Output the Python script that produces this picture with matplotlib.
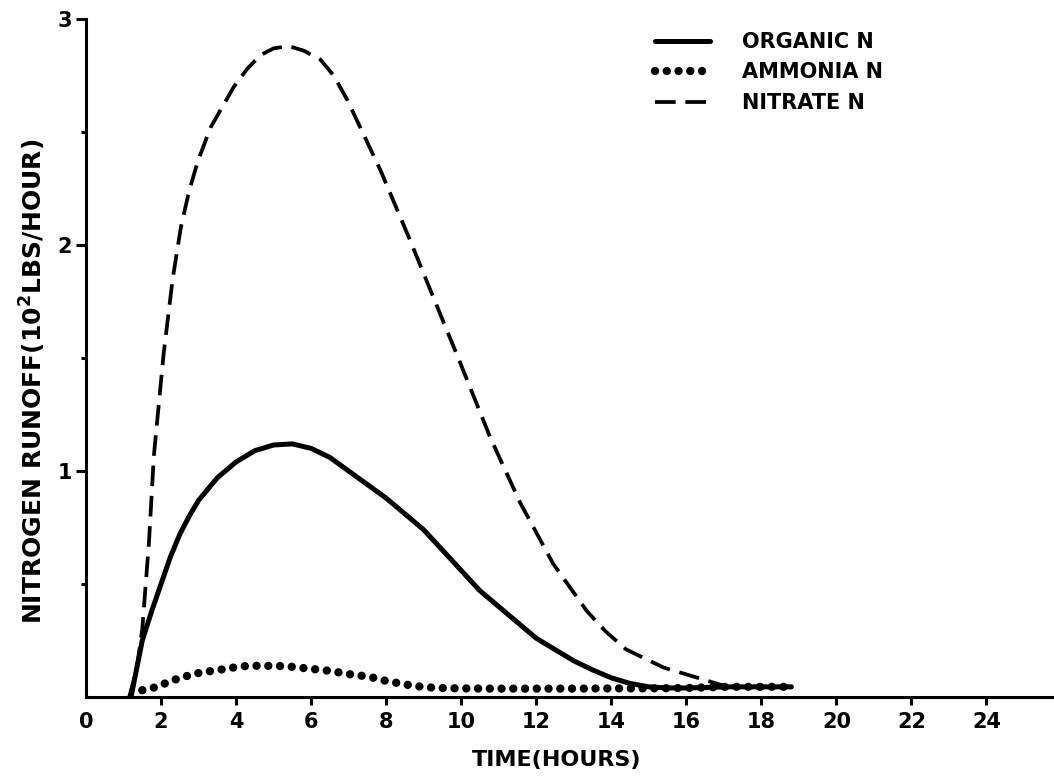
import numpy as np
import matplotlib
matplotlib.use("Agg")
import matplotlib.pyplot as plt
from matplotlib.ticker import FixedLocator

# values (time in hours, runoff in 10^2 lbs/hour)
organic_hours = [1.2, 1.5, 1.75, 2.0, 2.25, 2.5, 2.75, 3.0, 3.5, 4.0, 4.5, 5.0, 5.5, 6.0, 6.5,
                 7.0, 7.5, 8.0, 8.5, 9.0, 9.5, 10.0, 10.5, 11.0, 11.5, 12.0, 12.5, 13.0,
                 13.5, 14.0, 14.5, 15.0, 15.5, 16.0, 16.5, 17.1, 18.8]
organic_n = [0.0, 0.25, 0.38, 0.50, 0.62, 0.72, 0.80, 0.87, 0.97, 1.04, 1.09, 1.115, 1.12, 1.10, 1.06,
             1.00, 0.94, 0.88, 0.81, 0.74, 0.65, 0.56, 0.47, 0.40, 0.33, 0.26, 0.21, 0.16,
             0.12, 0.085, 0.06, 0.045, 0.04, 0.04, 0.042, 0.045, 0.045]

ammonia_hours = [1.5, 1.9, 2.2, 2.5, 2.8, 3.1, 3.4, 3.7, 4.1, 4.4, 4.7, 5.05, 5.4, 5.7,
                 6.0, 6.3, 6.7, 7.05, 7.4, 7.7, 8.0, 8.3, 8.6, 9.0, 9.4, 10.0, 11.0,
                 12.0, 13.0, 14.0, 15.0, 16.0, 17.1, 18.8]
ammonia_n = [0.03, 0.045, 0.067, 0.084, 0.098, 0.11, 0.116, 0.124, 0.135, 0.138, 0.138, 0.138, 0.135, 0.13,
             0.124, 0.12, 0.11, 0.10, 0.093, 0.084, 0.071, 0.062, 0.053, 0.044, 0.04, 0.038, 0.037,
             0.037, 0.037, 0.038, 0.038, 0.04, 0.045, 0.045]

nitrate_hours = [1.15, 1.35, 1.5, 1.68, 1.81, 2.07, 2.31, 2.53, 2.75, 2.98, 3.32, 3.94, 4.3,
                 4.65, 5.0, 5.4, 5.8, 6.25, 6.6, 6.97, 7.85, 8.64, 9.18, 9.97, 10.77,
                 11.57, 12.45, 13.35, 13.85, 14.4, 15.4, 16.3, 17.0]
nitrate_n = [0.0, 0.12, 0.30, 0.69, 1.07, 1.52, 1.85, 2.08, 2.24, 2.37, 2.52, 2.70, 2.78,
             2.84, 2.87, 2.88, 2.86, 2.82, 2.75, 2.64, 2.33, 2.02, 1.80, 1.48, 1.15,
             0.86, 0.59, 0.38, 0.29, 0.21, 0.13, 0.085, 0.05]

x_ticks = [0, 2, 4, 6, 8, 10, 12, 14, 16, 18, 20, 22, 24]
y_major = [1, 2, 3]
y_minor = [0.5, 1.5, 2.5]

plt.rcParams['font.family'] = ['DejaVu Sans']
plt.rcParams['font.weight'] = 'bold'
plt.rcParams['mathtext.fontset'] = 'custom'
plt.rcParams['mathtext.rm'] = 'DejaVu Sans:bold'
plt.rcParams['mathtext.default'] = 'regular'

W, H = 1054, 780
fig = plt.figure(figsize=(W / 100, H / 100), dpi=100)
ax = fig.add_axes([86 / W, 1 - 697 / H, 1 - 86 / W, (697 - 19) / H])

ax.plot(organic_hours, organic_n, color='black', lw=3.6, solid_capstyle='round',
        solid_joinstyle='round', label='ORGANIC N')
ax.plot(ammonia_hours, ammonia_n, color='black', lw=6.0, dash_capstyle='round',
        linestyle=(0, (0.01, 1.4)), label='AMMONIA N')
ax.plot(nitrate_hours, nitrate_n, color='black', lw=2.7, dash_joinstyle='round',
        linestyle=(0, (5.5, 2.6)), label='NITRATE N')

ax.set_xlim(0, 25.8)
ax.set_ylim(0, 3)

for side in ['top', 'right']:
    ax.spines[side].set_visible(False)
for side in ['left', 'bottom']:
    ax.spines[side].set_linewidth(2.2)

ax.xaxis.set_major_locator(FixedLocator(x_ticks))
ax.set_xticklabels([str(t) for t in x_ticks])
ax.xaxis.get_major_ticks()[0].tick1line.set_visible(False)
ax.yaxis.set_major_locator(FixedLocator(y_major))
ax.yaxis.set_minor_locator(FixedLocator(y_minor))
ax.set_yticklabels([str(t) for t in y_major])

ax.tick_params(axis='x', which='major', direction='out', length=6, width=2.2,
               labelsize=15, pad=5)
ax.tick_params(axis='y', which='major', direction='out', length=7, width=2.2,
               labelsize=15, pad=3)
ax.tick_params(axis='y', which='minor', direction='out', length=3.6, width=2.2)

ax.set_xlabel('TIME(HOURS)', fontsize=16, fontweight='bold', va='center')
ax.xaxis.set_label_coords(0.486, -0.093)
ax.set_ylabel(r'NITROGEN RUNOFF(10$^2$LBS/HOUR)', fontsize=18, fontweight='bold', va='center')
ax.yaxis.set_label_coords(-0.055, 0.466)

ax.legend(loc='upper left', bbox_to_anchor=(655 / W, 1 - 32 / H), bbox_transform=fig.transFigure,
          frameon=False, fontsize=15, handlelength=2.65, handletextpad=1.55,
          labelspacing=0.5, borderpad=0, borderaxespad=0)

fig.savefig('out.png', dpi=100, facecolor='white')
